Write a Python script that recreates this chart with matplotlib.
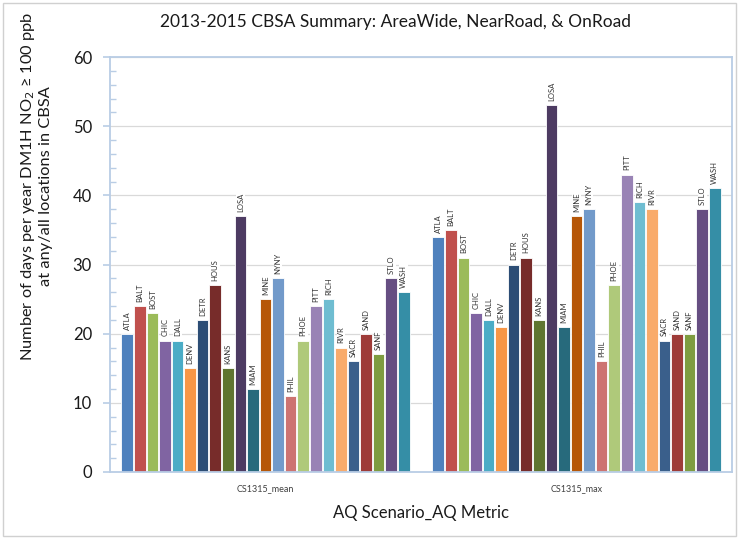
import numpy as np
import matplotlib
matplotlib.use('agg')
import matplotlib.pyplot as plt
from matplotlib.ticker import MultipleLocator
from matplotlib.patches import Rectangle

# CBSA codes and bar colours (one per city)
cities = ["ATLA", "BALT", "BOST", "CHIC", "DALL", "DENV", "DETR", "HOUS", "KANS",
          "LOSA", "MIAM", "MINE", "NYNY", "PHIL", "PHOE", "PITT", "RICH", "RIVR",
          "SACR", "SAND", "SANF", "STLO", "WASH"]
colors = ["#4F81BD", "#C0504D", "#9BBB59", "#8064A2", "#4BACC6", "#F79646",
          "#2C4D75", "#772C2A", "#5F7530", "#4D3B62", "#276A7C", "#B65708",
          "#729ACA", "#CD7371", "#AFC97A", "#9983B5", "#6FBDD1", "#F9AB6B",
          "#3A5F8B", "#9E3B38", "#7E9C40", "#664E82", "#358EA6"]

metrics = ["CS1315_mean", "CS1315_max"]
days_mean = [20, 24, 23, 19, 19, 15, 22, 27, 15, 37, 12, 25, 28, 11, 19, 24, 25,
             18, 16, 20, 17, 28, 26]
days_max = [34, 35, 31, 23, 22, 21, 30, 31, 22, 53, 21, 37, 38, 16, 27, 43, 39,
            38, 19, 20, 20, 38, 41]

plt.rcParams['font.family'] = ['Lato', 'DejaVu Sans']

fig = plt.figure(figsize=(7.4, 5.4), dpi=100)
ax = fig.add_axes([110/740, 1-472/540, 622/740, 415/540])

n = len(cities)
group_w = 0.93
slot = group_w/n
x = np.arange(len(metrics))
for i, city in enumerate(cities):
    vals = [days_mean[i], days_max[i]]
    pos = x - group_w/2 + slot*(i + 0.5)
    ax.bar(pos, vals, width=slot*0.92, color=colors[i], edgecolor='white',
           linewidth=0.6, zorder=2)
    for p, v in zip(pos, vals):
        ax.text(p, v + 0.6, city, rotation=90, ha='center', va='bottom',
                fontsize=5.5, color='#333333', zorder=3,
                bbox=dict(facecolor='white', edgecolor='none', pad=0.6))

ax.set_xlim(-0.5, 1.5)
ax.set_ylim(0, 60)
ax.yaxis.set_major_locator(MultipleLocator(10))
ax.yaxis.set_minor_locator(MultipleLocator(2))
ax.grid(axis='y', which='major', color='#D9D9D9', linewidth=0.9, zorder=0)
ax.set_axisbelow(True)

for s in ax.spines.values():
    s.set_color('#B9CDE5')
    s.set_linewidth(1.3)

ax.tick_params(axis='y', which='major', direction='out', length=5,
               color='#B9CDE5', width=1.2, labelsize=12, pad=8, labelcolor='#1a1a1a')
ax.tick_params(axis='y', which='minor', direction='in', length=4,
               color='#B9CDE5', width=1.0)
ax.set_xticks(x)
ax.set_xticklabels(metrics, fontsize=6.5, color='#404040')
ax.tick_params(axis='x', length=0, pad=9)

ax.set_xlabel("AQ Scenario_AQ Metric", fontsize=12, labelpad=8, color='#1a1a1a')
fig.text(395/740, 1-22/540, "2013-2015 CBSA Summary: AreaWide, NearRoad, & OnRoad",
         ha='center', va='center', fontsize=12.5, color='#1a1a1a')
fig.text(36/740, 1-186/540,
         "Number of days per year DM1H NO$_2$ \u2265 100 ppb\nat any/all locations in CBSA",
         rotation=90, ha='center', va='center', fontsize=11.8, color='#1a1a1a',
         linespacing=1.15)

fig.patches.append(Rectangle((3/740, 4/540), 733/740, 533/540, transform=fig.transFigure,
                             fill=False, edgecolor='#D0D0D0', linewidth=1.0))

fig.savefig('out.png', dpi=100)
